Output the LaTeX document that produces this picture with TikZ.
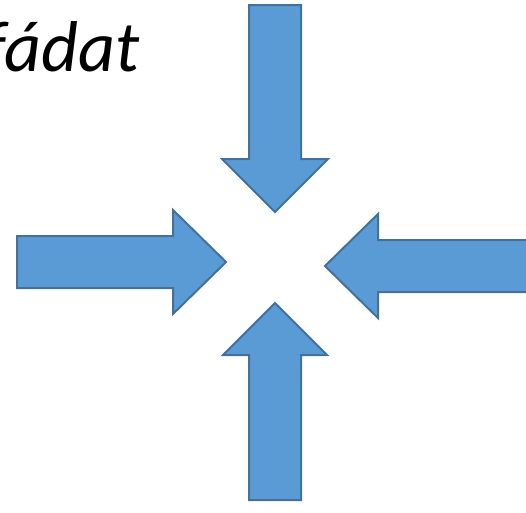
\documentclass[tikz,border=0pt]{standalone}
\usepackage{fontspec}
\setmainfont{Carlito}
\definecolor{ArrowFill}{HTML}{5B9BD5}
\definecolor{ArrowLine}{HTML}{41719C}

\tikzset{
  blockarrow/.style={fill=ArrowFill,draw=ArrowLine,line width=2pt,line join=miter},
  headtext/.style={font=\fontsize{72}{78}\selectfont\itshape,inner sep=0pt,anchor=base west}
}

\begin{document}
\begin{tikzpicture}[x=1pt,y=-1pt]
\useasboundingbox (0,0) rectangle (526,512);
\clip (0,0) rectangle (526,512);

\node[headtext] (title) at (-17,71) {fádat};

% arrow from the top
\draw[blockarrow] (249,5) -- (301,5) -- (301,159) -- (328,159) -- (275,212)
  -- (222,159) -- (249,159) -- cycle;
% arrow from the left
\draw[blockarrow] (17,236) -- (173,236) -- (173,210) -- (226,262) -- (173,314)
  -- (173,288) -- (17,288) -- cycle;
% arrow from the right
\draw[blockarrow] (545,240) -- (378,240) -- (378,214) -- (325,266) -- (378,318)
  -- (378,292) -- (545,292) -- cycle;
% arrow from the bottom
\draw[blockarrow] (249,500) -- (301,500) -- (301,355) -- (327,355) -- (275,303)
  -- (223,355) -- (249,355) -- cycle;

\end{tikzpicture}
\end{document}
